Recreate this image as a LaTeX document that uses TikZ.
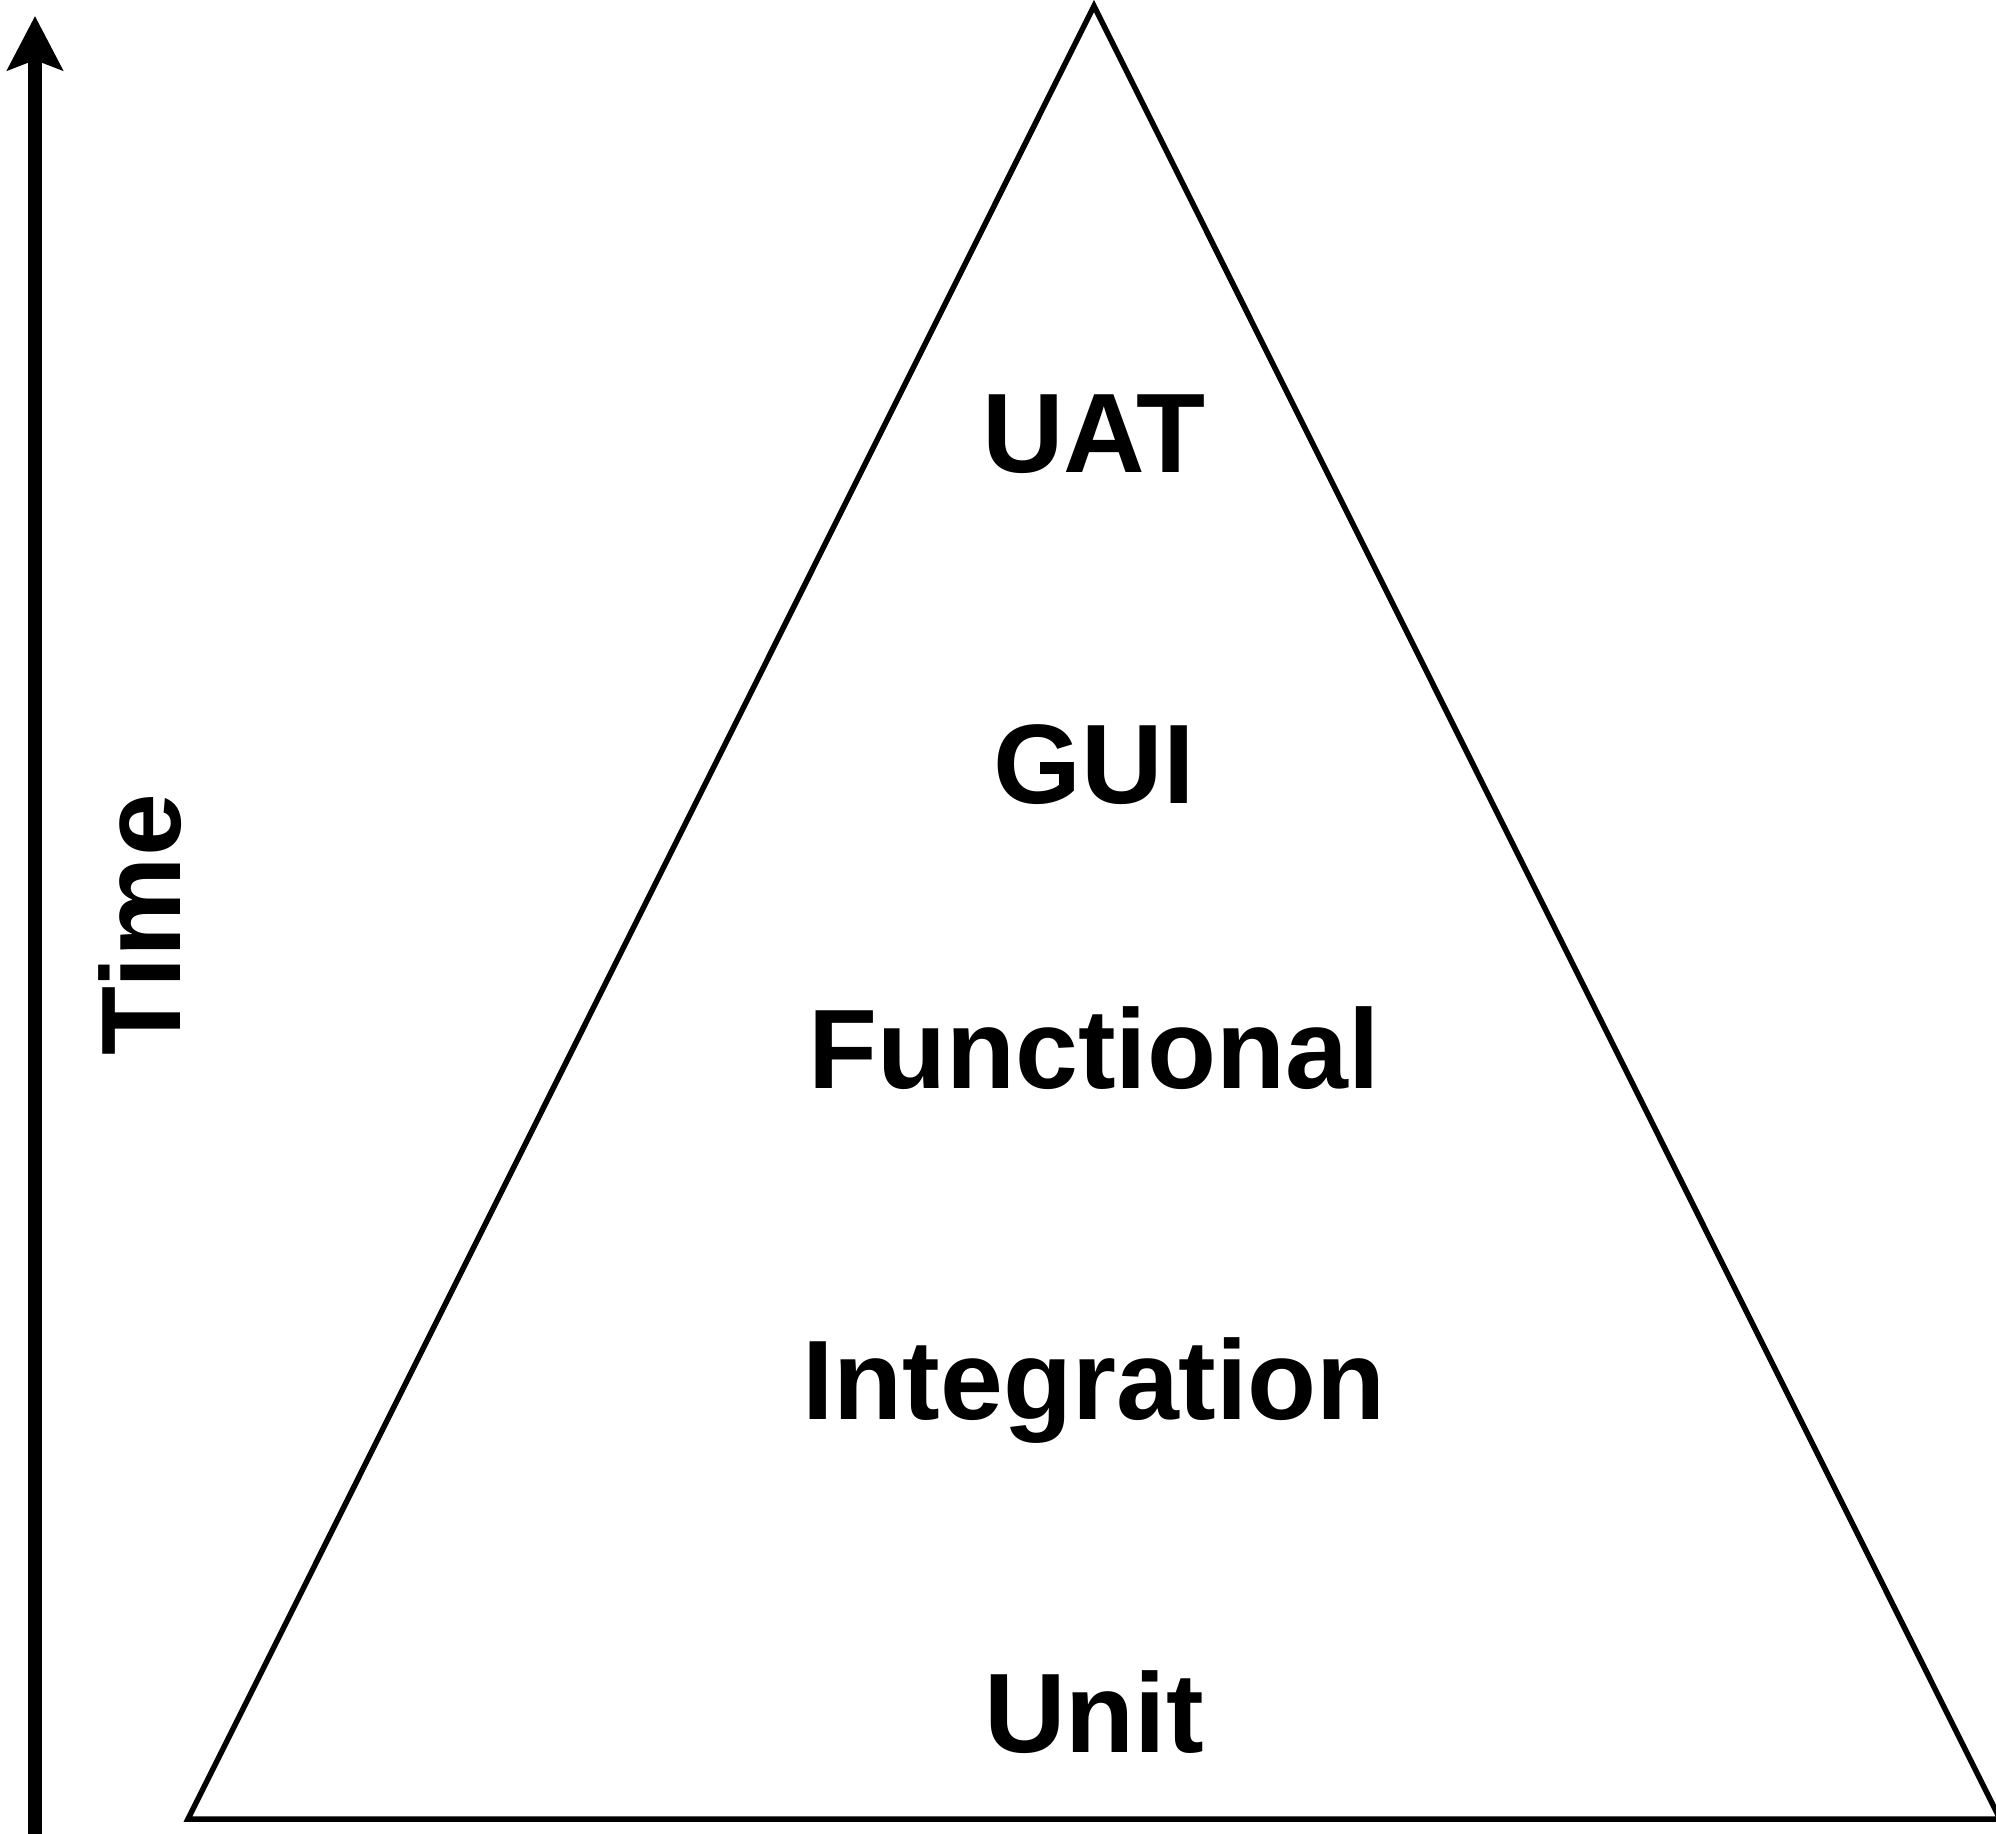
\documentclass[tikz,border=0pt]{standalone}
\usepackage{fontspec}
\setmainfont{Liberation Sans}
\usetikzlibrary{arrows.meta}
\begin{document}
\begin{tikzpicture}[x=0.5pt,y=-0.5pt,
  lbl/.style={font=\bfseries\fontsize{56.5}{60}\selectfont, inner sep=0pt, anchor=base},
  pyramid/.style={draw=black, line width=2.75pt, line join=miter},
  timeaxis/.style={draw=black, line width=6.7pt, -{Stealth[length=27pt,width=27.5pt,inset=5pt]}}]
\useasboundingbox (0,0) rectangle (1996,1833);
% pyramid
\coordinate (apex) at (1094,6);
\coordinate (bl) at (188,1819);
\coordinate (br) at (2000,1819);
\draw[pyramid] (apex) -- (br) -- (bl) -- cycle;
% time axis
\coordinate (tbot) at (35,1840);
\coordinate (ttop) at (35,16);
\draw[timeaxis] (tbot) -- (ttop);
\node[lbl, rotate=90] (time) at (180,925) {Time};
% levels
\node[lbl] (uat) at (1094,472) {UAT};
\node[lbl] (gui) at (1094,803) {GUI};
\node[lbl] (func) at (1094,1088) {Functional};
\node[lbl] (integ) at (1094,1419) {Integration};
\node[lbl] (unit) at (1094,1752) {Unit};
\end{tikzpicture}
\end{document}
